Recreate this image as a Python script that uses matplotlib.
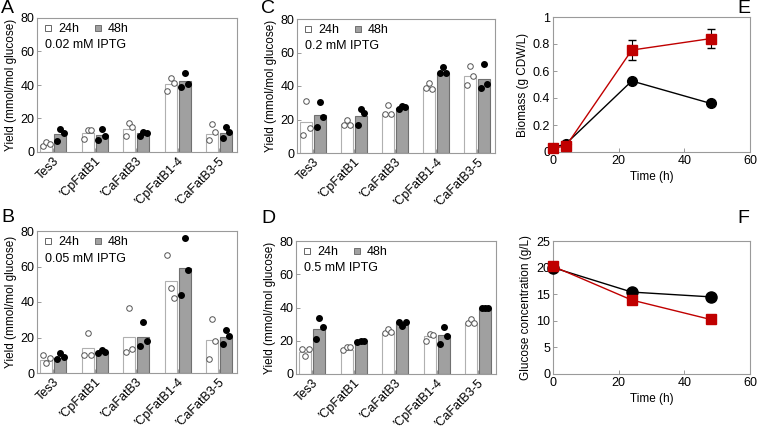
import numpy as np
import matplotlib.pyplot as plt
from matplotlib.lines import Line2D

plt.rcParams['font.family'] = ['Liberation Sans', 'DejaVu Sans']

strains = ["Tes3", "′CpFatB1", "′CaFatB3", "′CpFatB1-4", "′CaFatB3-5"]

# bar heights (means) and the three replicates for 24 h and 48 h
iptg_a = "0.02 mM IPTG"
a_24 = [4, 11.4, 14, 40.4, 11]
a_48 = [10.6, 10, 11.4, 42.4, 11.6]
a_24_pts = [[3.5, 6, 4.5], [8, 13, 13], [9.5, 17.5, 15], [36.5, 44, 41], [7, 17, 12]]
a_48_pts = [[6.5, 14, 11.5], [7, 14, 9.5], [9.5, 12, 11.5], [39, 47, 40.5], [8.5, 15, 12]]

iptg_b = "0.05 mM IPTG"
b_24 = [7.5, 14, 20.5, 52, 18.7]
b_48 = [8.4, 12, 20.5, 59.3, 20.5]
b_24_pts = [[10, 5.5, 8.5], [10, 22.5, 10], [12, 36.5, 13.5], [66.5, 48, 42.5], [8, 30.5, 18]]
b_48_pts = [[8, 11, 9], [11.5, 13, 12], [15, 29, 18], [44, 76, 58], [16.5, 24.5, 21]]

iptg_c = "0.2 mM IPTG"
c_24 = [18.6, 17.2, 23.5, 39, 46]
c_48 = [22.5, 22, 27, 48, 44]
c_24_pts = [[10.5, 31, 15], [17, 20, 16.5], [23, 28.5, 23], [39, 42, 38.5], [40.5, 52, 46]]
c_48_pts = [[15.5, 30.5, 21.5], [17, 26, 24], [26.5, 28, 27.5], [47.5, 51.5, 47.5], [39, 53, 41]]

iptg_d = "0.5 mM IPTG"
d_24 = [13.4, 14.4, 24.4, 23, 30.4]
d_48 = [27, 18.8, 31, 23.4, 40]
d_24_pts = [[15, 11, 15], [14.5, 16, 16], [24.5, 27, 25], [20, 24, 23.5], [30.5, 33, 30.5]]
d_48_pts = [[21, 33.5, 28.5], [19, 20, 20], [31.5, 29, 31.5], [18, 28, 23], [39.5, 40, 40]]

# time courses
bio_t = [0, 4, 24, 48]
bio_black = [0.03, 0.062, 0.526, 0.36]
bio_red = [0.027, 0.046, 0.755, 0.84]
bio_red_err = [0, 0, 0.077, 0.068]

glc_t = [0, 24, 48]
glc_black = [20.0, 15.4, 14.5]
glc_red = [20.25, 13.9, 10.25]

W, H = 757, 429
fig = plt.figure(figsize=(W / 100, H / 100), dpi=100)


def px_axes(left, right, top, bottom):
    return fig.add_axes([left / W, 1 - bottom / H, (right - left) / W, (bottom - top) / H])


spine_col = "#9a9a9a"
red = "#c00000"
fs = 9
lab_fs = 8.5


def style(ax):
    for s in ax.spines.values():
        s.set_color(spine_col)
        s.set_linewidth(0.8)
    ax.tick_params(direction="in", length=3, width=0.7, color=spine_col,
                   labelsize=fs, pad=2)


def bar_panel(ax, v24, v48, p24, p48, label):
    x = np.arange(len(strains))
    off, w = 0.17, 0.29
    ax.bar(x - off, v24, w, color="white", edgecolor="#b0b0b0", linewidth=0.8, zorder=2)
    ax.bar(x + off, v48, w, color="#a0a0a0", edgecolor="#707070", linewidth=0.8, zorder=2)
    jit = np.array([-0.08, 0.0, 0.08])
    for i in range(len(strains)):
        ax.plot(x[i] - off + jit, p24[i], "o", ms=4, mfc="white", mec="#555555",
                mew=0.7, ls="none", zorder=3)
        ax.plot(x[i] + off + jit, p48[i], "o", ms=4, mfc="black", mec="black",
                ls="none", zorder=3)
    ax.set_xlim(-0.395, 4.435)
    ax.set_ylim(0, 80)
    ax.set_yticks([0, 20, 40, 60, 80])
    ax.set_xticks(x)
    ax.set_xticklabels(strains, rotation=45, ha="right", rotation_mode="anchor")
    ax.set_ylabel("Yield (mmol/mol glucose)", fontsize=lab_fs, labelpad=2)
    style(ax)
    handles = [Line2D([], [], marker="s", ls="none", ms=5, mfc="white", mec="#666666", mew=0.7),
               Line2D([], [], marker="s", ls="none", ms=5, mfc="#a0a0a0", mec="#707070", mew=0.7)]
    ax.legend(handles, ["24h", "48h"], ncol=2, loc="upper left", frameon=False,
              fontsize=fs, handletextpad=0.3, columnspacing=1.0, handlelength=1.0,
              borderaxespad=0.2, borderpad=0.2)
    ax.text(0.04, 0.80, label, transform=ax.transAxes, fontsize=fs, va="center")


axA = px_axes(37, 237, 18, 152)
bar_panel(axA, a_24, a_48, a_24_pts, a_48_pts, iptg_a)
axB = px_axes(37, 237, 231, 373)
bar_panel(axB, b_24, b_48, b_24_pts, b_48_pts, iptg_b)
axC = px_axes(297, 495, 19, 153)
bar_panel(axC, c_24, c_48, c_24_pts, c_48_pts, iptg_c)
axD = px_axes(296, 496, 241, 374)
bar_panel(axD, d_24, d_48, d_24_pts, d_48_pts, iptg_d)

axE = px_axes(553, 750, 17, 152)
axE.plot(bio_t, bio_black, "-o", color="black", ms=7, lw=1, zorder=3)
axE.errorbar(bio_t, bio_red, yerr=bio_red_err, fmt="-s", color=red, ms=7, lw=1,
             ecolor="black", elinewidth=0.8, capsize=3, zorder=4)
axE.set_xlim(0, 60)
axE.set_ylim(0, 1)
axE.set_xticks([0, 20, 40, 60])
axE.set_yticks([0, 0.2, 0.4, 0.6, 0.8, 1])
axE.set_yticklabels(["0", "0.2", "0.4", "0.6", "0.8", "1"])
axE.set_xlabel("Time (h)", fontsize=lab_fs, labelpad=3)
axE.set_ylabel("Biomass (g CDW/L)", fontsize=lab_fs, labelpad=3)
style(axE)

axF = px_axes(553, 750, 241, 374)
axF.plot(glc_t, glc_black, "-o", color="black", ms=8, lw=1, zorder=3)
axF.plot(glc_t, glc_red, "-s", color=red, ms=7, lw=1, zorder=4)
axF.set_xlim(0, 60)
axF.set_ylim(0, 25)
axF.set_xticks([0, 20, 40, 60])
axF.set_yticks([0, 5, 10, 15, 20, 25])
axF.set_xlabel("Time (h)", fontsize=lab_fs, labelpad=3)
axF.set_ylabel("Glucose concentration (g/L)", fontsize=lab_fs, labelpad=3)
style(axF)

for a in (axE, axF):
    for line in a.lines:
        line.set_clip_on(False)

for letter, x, y in [("A", 1, 0), ("B", 1, 209), ("C", 261, 0), ("D", 261, 210),
                     ("E", 737, 0), ("F", 737, 210)]:
    fig.text(x / W, 1 - y / H, letter, fontsize=14, va="top", ha="left")

fig.savefig("out.png", dpi=100)
